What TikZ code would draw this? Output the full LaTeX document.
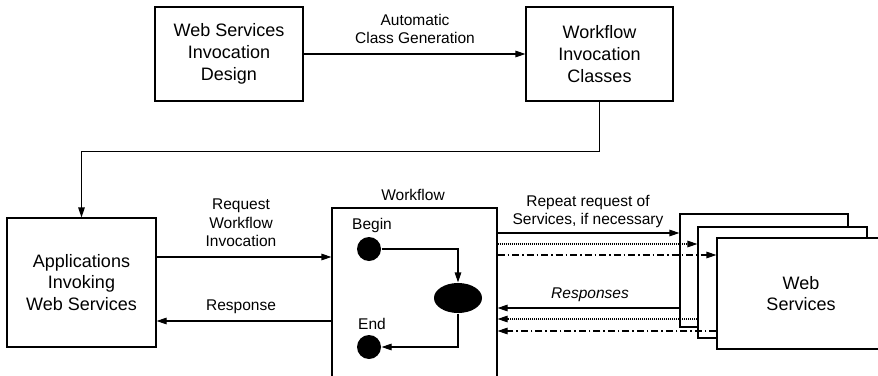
\documentclass[tikz,border=0pt]{standalone}
\usepackage{fontspec}
\setmainfont{Liberation Sans}
\usetikzlibrary{arrows.meta,shapes.geometric}
\begin{document}
\begin{tikzpicture}[x=1pt,y=-1pt,
  line width=1.1pt,
  box/.style={draw,fill=white,align=center,inner sep=0pt,
    font=\fontsize{18}{21.7}\selectfont},
  lbl/.style={align=center,inner sep=0pt,font=\fontsize{15.5}{18.3}\selectfont},
  arr/.style={-{Triangle[length=10pt,width=6.5pt]}},
  dotline/.style={dash pattern=on 1pt off 1pt},
  dashdotline/.style={dash pattern=on 7pt off 3pt on 1.5pt off 3pt},
  dot/.style={circle,fill=black,minimum size=24pt,inner sep=0pt},
  blob/.style={ellipse,fill=black,minimum width=48pt,minimum height=30pt,inner sep=0pt}]
\clip (0,0) rectangle (878,375);
\fill[white] (0,0) rectangle (878,375);

% top row
\node[box,minimum width=148pt,minimum height=94pt] (wsid) at (229,54)
  {Web Services\\Invocation\\Design};
\node[box,minimum width=147pt,minimum height=94pt] (wic) at (599.5,54)
  {Workflow\\Invocation\\Classes};
\draw[arr] (wsid) -- (wic);
\node[lbl] (lgen) at (415,29) {Automatic\\Class Generation};

% client application
\node[box,minimum width=149pt,minimum height=129pt] (apps) at (81.5,282.5)
  {Applications\\Invoking\\Web Services};
\draw[arr] (wic.south) -- ++(0,50) -| (apps.north);

% workflow engine
\node[draw,minimum width=165pt,minimum height=172pt,inner sep=0pt] (wf) at (414.5,294) {};
\node[lbl] (lwf) at (413,195) {Workflow};
\node[dot] (begin) at (369,249) {};
\node[dot] (end) at (369,347) {};
\node[blob] (task) at (458,298) {};
\node[lbl] (lbegin) at (372,225) {Begin};
\node[lbl] (lend) at (372,324) {End};
\draw[arr] (begin.east) -| (task.north);
\draw[arr] (task.south) |- (end.east);

% request / response with the application
\coordinate (yreq) at (0,257);
\coordinate (yres) at (0,321);
\draw[arr] (apps.east |- yreq) -- (wf.west |- yreq);
\draw[arr] (wf.west |- yres) -- (apps.east |- yres);
\node[lbl] (lreq) at (241,223) {Request\\Workflow\\Invocation};
\node[lbl] (lres) at (241,307) {Response};

% stacked web services
\node[draw,fill=white,minimum width=168pt,minimum height=113pt,inner sep=0pt] (s1) at (764,270.5) {};
\node[draw,fill=white,minimum width=169pt,minimum height=111pt,inner sep=0pt] (s2) at (782.5,282.5) {};
\node[box,minimum width=168pt,minimum height=111pt] (s3) at (801,293.5) {Web\\Services};

% repeated requests
\coordinate (yo1) at (0,233);
\coordinate (yo2) at (0,244);
\coordinate (yo3) at (0,255);
\draw[arr] (wf.east |- yo1) -- (s1.west |- yo1);
\draw[arr,dotline] (wf.east |- yo2) -- (s2.west |- yo2);
\draw[arr,dashdotline] (wf.east |- yo3) -- (s3.west |- yo3);
\node[lbl] (lrep) at (588,211.5) {Repeat request of\\Services, if necessary};

% responses
\coordinate (yi1) at (0,308);
\coordinate (yi2) at (0,319);
\coordinate (yi3) at (0,331);
\draw[arr] (s1.west |- yi1) -- (wf.east |- yi1);
\draw[arr,dotline] (s2.west |- yi2) -- (wf.east |- yi2);
\draw[arr,dashdotline] (s3.west |- yi3) -- (wf.east |- yi3);
\node[lbl,font=\fontsize{15.5}{18.3}\selectfont\itshape] (lresp) at (590,295) {Responses};
\end{tikzpicture}
\end{document}
